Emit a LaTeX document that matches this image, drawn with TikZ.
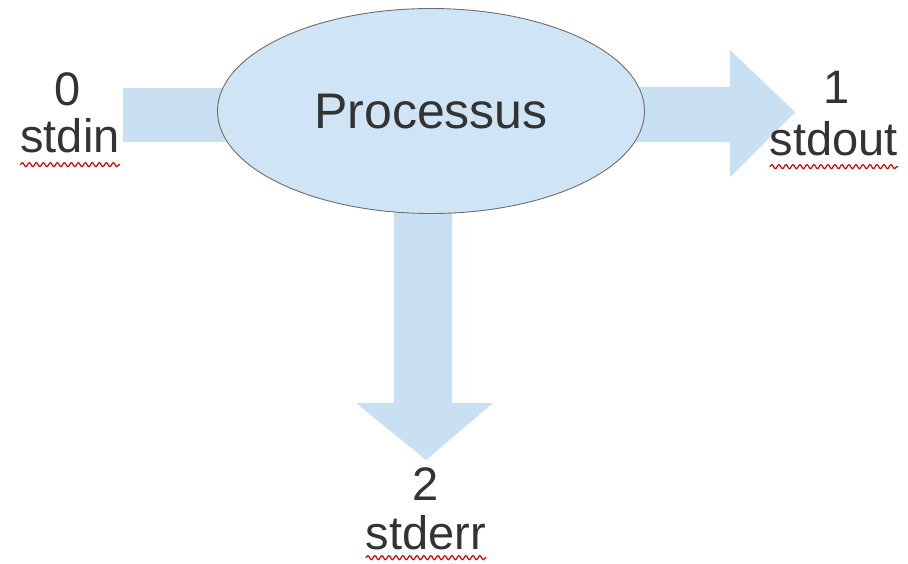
\documentclass[tikz,border=0pt]{standalone}
\usepackage{fontspec}
\setmainfont{Liberation Sans}
\usetikzlibrary{shapes.geometric,decorations.pathmorphing}
\definecolor{flowblue}{HTML}{C8E0F2}
\definecolor{procfill}{HTML}{CFE4F4}
\definecolor{edgegray}{HTML}{6E6E6E}
\definecolor{txt}{HTML}{333333}
\tikzset{
  lbl/.style={text=txt,font=\fontsize{47}{56}\selectfont,inner sep=0pt,anchor=base},
  flow/.style={fill=flowblue,draw=none},
  squig/.style={draw=red!85!black,line width=1.2pt,decorate,decoration={snake,segment length=7pt,amplitude=2pt}}
}
\begin{document}
\begin{tikzpicture}[x=1pt,y=-1pt]
\useasboundingbox (0,0) rectangle (908,563);
% block arrows (behind the ellipse)
\fill[flow] (123,88) rectangle (330,142);
\fill[flow] (530,87) -- (730,87) -- (730,50) -- (795,112) -- (730,177) -- (730,142) -- (530,142) -- cycle;
\fill[flow] (394,150) -- (394,403) -- (356,403) -- (426,460) -- (493,403) -- (452,403) -- (452,150) -- cycle;
% process ellipse
\node[ellipse,draw=edgegray,line width=0.9pt,fill=procfill,minimum width=427pt,minimum height=205pt,inner sep=0pt] (proc) at (431,111) {};
\node[lbl,font=\fontsize{50}{60}\selectfont] (ptext) at (431,128) {Processus};
% labels
\node[lbl] (n0) at (68,105) {0};
\node[lbl] (sin) at (70,152) {stdin};
\node[lbl] (n1) at (837,103) {1};
\node[lbl] (sout) at (834,155) {stdout};
\node[lbl] (n2) at (426,500) {2};
\node[lbl] (serr) at (426,549) {stderr};
% spell-check underlines
\draw[squig] ([yshift=-12pt]sin.south west) -- ([yshift=-12pt]sin.south east);
\draw[squig] ([yshift=-11pt]sout.south west) -- ([yshift=-11pt]sout.south east);
\draw[squig] ([yshift=-8pt]serr.south west) -- ([yshift=-8pt]serr.south east);
\end{tikzpicture}
\end{document}
